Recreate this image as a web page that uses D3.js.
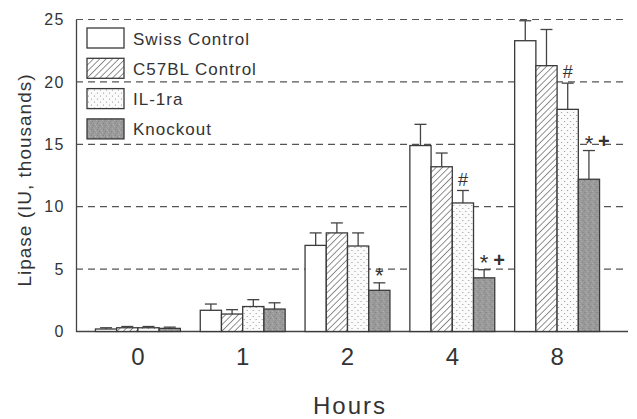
<!DOCTYPE html>
<meta charset="utf-8">
<style>
    body { margin: 0; background: #fff; }
    text { font-family: "Liberation Sans", Arial, sans-serif; fill: #333; }
</style>
<body>
<script src="https://cdn.jsdelivr.net/npm/d3@7"></script>
<script>
    // data
    var hours = ["0", "1", "2", "4", "8"]
    var series = ["Swiss Control", "C57BL Control", "IL-1ra", "Knockout"]
    var swiss = [0.2, 1.7, 6.9, 14.9, 23.3]
    var swissErr = [0.1, 0.5, 1.0, 1.7, 1.6]
    var c57 = [0.3, 1.4, 7.9, 13.2, 21.3]
    var c57Err = [0.1, 0.35, 0.8, 1.1, 2.9]
    var il1ra = [0.3, 2.0, 6.85, 10.3, 17.8]
    var il1raErr = [0.1, 0.55, 1.05, 1.0, 2.1]
    var knockout = [0.25, 1.8, 3.3, 4.3, 12.2]
    var knockoutErr = [0.1, 0.5, 0.6, 0.65, 2.3]
    var yTicks = [0, 5, 10, 15, 20, 25]
    // significance marks: [hour, series, text]
    var marks = [["2", "Knockout", "*"], ["4", "IL-1ra", "#"], ["4", "Knockout", "* +"],
                 ["8", "IL-1ra", "#"], ["8", "Knockout", "* +"]]

    var values = [swiss, c57, il1ra, knockout]
    var errors = [swissErr, c57Err, il1raErr, knockoutErr]
    var rows = []
    hours.forEach(function(h, i) {
        series.forEach(function(s, j) {
            rows.push({hour: h, series: s, value: values[j][i], err: errors[j][i]})
        })
    })

    var width = 637, height = 419

    var svg = d3.select("body").append("svg")
        .attr("width", width)
        .attr("height", height)

    var defs = svg.append("defs")

    // diagonal hatch
    var hatch = defs.append("pattern")
        .attr("id", "hatch")
        .attr("patternUnits", "userSpaceOnUse")
        .attr("width", 4.5).attr("height", 4.5)
        .attr("patternTransform", "rotate(45)")
    hatch.append("rect").attr("width", 4.5).attr("height", 4.5).attr("fill", "#fff")
    hatch.append("line")
        .attr("x1", 0).attr("y1", 0).attr("x2", 0).attr("y2", 4.5)
        .attr("stroke", "#555").attr("stroke-width", 1.3)

    // stipple dots
    var dots = defs.append("pattern")
        .attr("id", "dots")
        .attr("patternUnits", "userSpaceOnUse")
        .attr("width", 6).attr("height", 6)
    dots.append("rect").attr("width", 6).attr("height", 6).attr("fill", "#fbfbfb")
    dots.append("circle").attr("cx", 1.5).attr("cy", 1.5).attr("r", 0.6).attr("fill", "#888")
    dots.append("circle").attr("cx", 4.5).attr("cy", 4.5).attr("r", 0.6).attr("fill", "#888")

    // mottled grey
    var mottle = defs.append("pattern")
        .attr("id", "mottle")
        .attr("patternUnits", "userSpaceOnUse")
        .attr("width", 6).attr("height", 6)
    mottle.append("rect").attr("width", 6).attr("height", 6).attr("fill", "#9a9a9a")
    ;[[0,0,"#7c7c7c"],[3,1,"#b2b2b2"],[1,3,"#aaaaaa"],[4,4,"#808080"],[5,2,"#8a8a8a"],[2,5,"#b8b8b8"]]
        .forEach(function(p) {
            mottle.append("rect").attr("x", p[0]).attr("y", p[1])
                .attr("width", 1).attr("height", 1).attr("fill", p[2])
        })

    var fills = d3.scaleOrdinal()
        .domain(series)
        .range(["#fff", "url(#hatch)", "url(#dots)", "url(#mottle)"])

    var plotLeft = 76, plotRight = 628, plotTop = 19.5, plotBottom = 331.5

    var x = d3.scaleBand()
        .domain(hours)
        .range([85.5, 609.5])
        .paddingInner(0.19)
        .paddingOuter(0.095)

    var xs = d3.scaleBand()
        .domain(series)
        .range([0, x.bandwidth()])

    var y = d3.scaleLinear()
        .domain([0, 25])
        .range([plotBottom, plotTop])

    // dashed grid
    svg.append("g").selectAll("line")
        .data(yTicks.filter(function(d) { return d > 0 }))
        .enter().append("line")
        .attr("x1", plotLeft).attr("x2", plotRight - 3)
        .attr("y1", function(d) { return y(d) }).attr("y2", function(d) { return y(d) })
        .attr("stroke", "#555").attr("stroke-width", 1.2)
        .attr("stroke-dasharray", "7,5")

    // y axis
    var yAxis = svg.append("g")
        .attr("transform", "translate(" + plotLeft + ",0)")
        .call(d3.axisLeft(y).tickValues(yTicks).tickSize(0).tickPadding(11))
    yAxis.select(".domain").attr("stroke", "#444").attr("stroke-width", 1.3)
    yAxis.selectAll("text")
        .attr("font-size", 16).attr("letter-spacing", 1.5).attr("fill", "#333")
        .attr("font-family", "Liberation Sans, Arial, sans-serif")

    // baseline
    svg.append("line")
        .attr("x1", plotLeft).attr("x2", plotRight)
        .attr("y1", y(0)).attr("y2", y(0))
        .attr("stroke", "#444").attr("stroke-width", 1.3)

    // x labels
    var xAxis = svg.append("g")
        .attr("transform", "translate(0," + (y(0) + 16) + ")")
        .call(d3.axisBottom(x).tickSize(0).tickPadding(0))
    xAxis.select(".domain").remove()
    xAxis.selectAll("text")
        .attr("font-size", 24).attr("fill", "#333").attr("dy", "0.71em")
        .attr("font-family", "Liberation Sans, Arial, sans-serif")

    var groups = svg.append("g").selectAll("g")
        .data(rows)
        .enter().append("g")
        .attr("transform", function(d) { return "translate(" + (x(d.hour) + xs(d.series)) + ",0)" })

    // error bars (upper only)
    groups.append("line")
        .attr("x1", xs.bandwidth() / 2).attr("x2", xs.bandwidth() / 2)
        .attr("y1", function(d) { return y(d.value) })
        .attr("y2", function(d) { return y(d.value + d.err) })
        .attr("stroke", "#444").attr("stroke-width", 1.3)
    groups.append("line")
        .attr("x1", xs.bandwidth() / 2 - 6).attr("x2", xs.bandwidth() / 2 + 6)
        .attr("y1", function(d) { return y(d.value + d.err) })
        .attr("y2", function(d) { return y(d.value + d.err) })
        .attr("stroke", "#444").attr("stroke-width", 1.3)

    groups.append("rect")
        .attr("y", function(d) { return y(d.value) })
        .attr("width", xs.bandwidth())
        .attr("height", function(d) { return y(0) - y(d.value) })
        .attr("fill", function(d) { return fills(d.series) })
        .attr("stroke", "#3a3a3a").attr("stroke-width", 1.3)

    // significance marks, one text per symbol
    var symbols = []
    marks.forEach(function(m) {
        var r = rows.find(function(o) { return o.hour == m[0] && o.series == m[1] })
        var cx = x(m[0]) + xs(m[1]) + xs.bandwidth() / 2
        var cy = y(r.value + r.err) - 11
        m[2].split(" ").forEach(function(s, k) {
            symbols.push({s: s, cx: cx + k * 15, cy: cy})
        })
    })
    svg.append("g").selectAll("text")
        .data(symbols)
        .enter().append("text")
        .attr("x", function(d) { return d.cx })
        .attr("y", function(d) {
            if (d.s == "*") return d.cy + 0.5 * 22
            if (d.s == "+") return d.cy + 0.42 * 20
            return d.cy + 0.35 * 18
        })
        .attr("text-anchor", "middle")
        .attr("font-size", function(d) { return d.s == "*" ? 22 : d.s == "+" ? 20 : 18 })
        .attr("font-weight", function(d) { return d.s == "+" ? "bold" : "normal" })
        .attr("fill", "#444")
        .text(function(d) { return d.s })

    // legend
    var legend = svg.append("g").selectAll("g")
        .data(series)
        .enter().append("g")
        .attr("transform", function(d, i) { return "translate(87," + (28 + i * 30.3) + ")" })
    legend.append("rect")
        .attr("width", 37).attr("height", 20)
        .attr("fill", function(d) { return fills(d) })
        .attr("stroke", "#3a3a3a").attr("stroke-width", 1.3)
    legend.append("text")
        .attr("x", 46).attr("y", 16.5)
        .attr("font-size", 17).attr("letter-spacing", 1)
        .text(function(d) { return d })

    // axis titles
    svg.append("text")
        .attr("transform", "translate(31,180) rotate(-90)")
        .attr("text-anchor", "middle")
        .attr("font-size", 19).attr("letter-spacing", 1)
        .text("Lipase (IU, thousands)")

    svg.append("text")
        .attr("x", 350).attr("y", 414)
        .attr("text-anchor", "middle")
        .attr("font-size", 24).attr("letter-spacing", 2)
        .text("Hours")
</script>
</body>
